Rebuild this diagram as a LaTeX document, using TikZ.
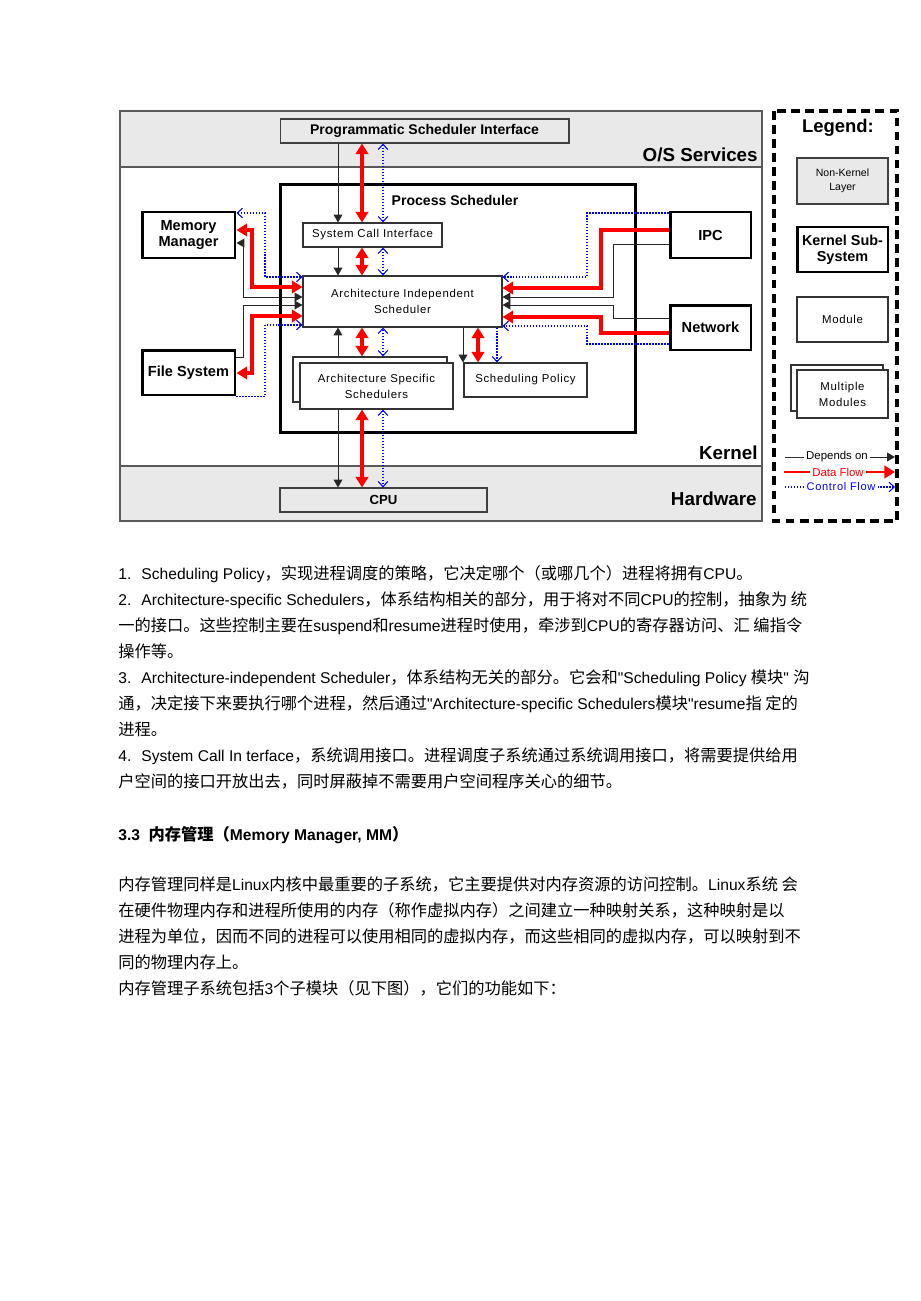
\documentclass[tikz,border=0pt]{standalone}
\usepackage{fontspec}
\usepackage{tikz}
\usetikzlibrary{calc,arrows.meta}
\setmainfont{Liberation Sans}
\newfontfamily\modfont[LetterSpace=6]{Liberation Sans}
\newfontfamily\bodyfont[Scale=0.96]{Liberation Sans}
\newfontfamily\cjk{Noto Sans CJK SC}
\newcommand\zh[1]{{\cjk #1}}

\tikzset{
	lay/.style={draw=black!75, line width=0.6pt, fill=gray!17, inner sep=0, font=\bfseries\fontsize{8}{9}\selectfont},
	mod/.style={draw=black!80, line width=0.6pt, fill=white, inner sep=0, align=center, font=\modfont\fontsize{6.5}{9.2}\selectfont},
	sub/.style={draw, line width=1.7pt, fill=white, inner sep=0, align=center, font=\bfseries\fontsize{8.3}{8.6}\selectfont},
	laylbl/.style={anchor=east, inner sep=0, font=\bfseries\fontsize{10.7}{12}\selectfont},
	legtxt/.style={inner sep=1pt, font=\fontsize{6.5}{8}\selectfont},
	txt/.style={anchor=base west, inner sep=0, font=\bodyfont\fontsize{9.25}{12}\selectfont},
	dep/.style={draw=black!85, line width=0.55pt, arrows={-Triangle[length=4.5pt,width=5pt]}},
	depb/.style={dep, arrows={Triangle[length=4.5pt,width=5pt]-Triangle[length=4.5pt,width=5pt]}},
	dat/.style={draw=red, line width=2.2pt, arrows={-Triangle[length=6pt,width=7pt]}},
	datb/.style={dat, arrows={Triangle[length=6pt,width=7pt]-Triangle[length=6pt,width=7pt]}},
	ctl/.style={draw=blue, dash pattern=on 0.8pt off 0.9pt, line width=0.6pt, arrows={-Straight Barb[length=3pt,width=5.5pt]}},
	ctlb/.style={ctl, arrows={Straight Barb[length=3pt,width=5.5pt]-Straight Barb[length=3pt,width=5.5pt]}}
}

\begin{document}
\begin{tikzpicture}[x=0.02cm,y=-0.02cm]
	\fill[white] (0,0) rectangle (920,1301);
	\useasboundingbox (0,0) rectangle (920,1301);
	% layers
	\fill[gray!17] (121,111) rectangle (761,167); % o/s services
	\fill[gray!17] (121,466) rectangle (761,521); % hardware
	\draw[black!65, line width=0.9pt] (120,111) rectangle (762,521) (120,167) -- (762,167) (120,466) -- (762,466);
	\node[laylbl] (oslbl) at (758,155) {O/S Services};
	\node[laylbl] (krlbl) at (758,453) {Kernel};
	\node[laylbl] (hwlbl) at (757,499) {Hardware};

	% boxes
	\node[lay, minimum width=5.78cm, minimum height=0.48cm] (psi) at (424.5,131) {Programmatic Scheduler Interface};
	\node[draw, line width=1.7pt, minimum width=7.12cm, minimum height=4.98cm] (proc) at (458,308.5) {};
	\node[inner sep=0, font=\bfseries\fontsize{8}{9}\selectfont] (proclbl) at (455,200) {Process Scheduler};
	\node[mod, minimum width=2.78cm, minimum height=0.48cm] (sci) at (372.5,235) {System Call Interface};
	\node[mod, minimum width=3.98cm, minimum height=1.02cm] (ais) at (402.5,301.5) {Architecture Independent\\Scheduler};
	\node[mod, minimum width=3.08cm, minimum height=0.90cm] (assb) at (370,379.5) {};
	\node[mod, minimum width=3.06cm, minimum height=0.92cm] (ass) at (376.5,386) {Architecture Specific\\Schedulers};
	\node[mod, minimum width=2.46cm, minimum height=0.68cm] (sp) at (525.5,380) {Scheduling Policy};
	\node[sub, minimum width=1.86cm, minimum height=0.92cm] (mm) at (188.5,235) {Memory\\Manager};
	\node[sub, minimum width=1.86cm, minimum height=0.90cm] (fs) at (188.5,372.5) {File System};
	\node[sub, minimum width=1.62cm, minimum height=0.92cm] (ipc) at (710.5,235) {IPC};
	\node[sub, minimum width=1.62cm, minimum height=0.90cm] (net) at (710.5,327.5) {Network};
	\node[lay, minimum width=4.14cm, minimum height=0.48cm, font=\bfseries\fontsize{7.5}{9}\selectfont] (cpu) at (383.5,500) {CPU};

	% vertical links
	\coordinate (c1) at (338,0);
	\coordinate (c2) at (362,0);
	\coordinate (c3) at (383,0);
	\draw[dep] (psi.south -| c1) -- (sci.north -| c1);
	\draw[datb] (psi.south -| c2) -- (sci.north -| c2);
	\draw[ctlb] (psi.south -| c3) -- (sci.north -| c3);
	\draw[dep] (sci.south -| c1) -- (ais.north -| c1);
	\draw[datb] (sci.south -| c2) -- (ais.north -| c2);
	\draw[ctlb] (sci.south -| c3) -- (ais.north -| c3);
	\draw[dep] (assb.north -| c1) -- (ais.south -| c1);
	\draw[datb] (assb.north -| c2) -- (ais.south -| c2);
	\draw[ctlb] (assb.north -| c3) -- (ais.south -| c3);
	\draw[dep] (ass.south -| c1) -- (cpu.north -| c1);
	\draw[datb] (ass.south -| c2) -- (cpu.north -| c2);
	\draw[ctlb] (ass.south -| c3) -- (cpu.north -| c3);
	\draw[dep] (ais.south -| 463,0) -- (sp.north -| 463,0); % to policy
	\draw[datb] (ais.south -| 478,0) -- (sp.north -| 478,0);
	\draw[ctl] (ais.south -| 497,0) -- (sp.north -| 497,0);

	% left side
	\draw[ctlb] (mm.east |- 0,213) -| (265,277) -- (ais.west |- 0,277);
	\draw[datb] (mm.east |- 0,230) -| (252,287) -- (ais.west |- 0,287);
	\draw[depb] (mm.east |- 0,243) -| (243,297) -- (ais.west |- 0,297);
	\draw[dep] (fs.east |- 0,357) -| (243,305) -- (ais.west |- 0,305);
	\draw[datb] (fs.east |- 0,373) -| (252,316) -- (ais.west |- 0,316);
	\draw[ctl] (fs.south east) -| (265,325) -- (ais.west |- 0,325);

	% right side
	\draw[ctl] (ipc.west |- 0,213) -| (587,277) -- (ais.east |- 0,277);
	\draw[dat] (ipc.west |- 0,230) -| (601,288) -- (ais.east |- 0,288);
	\draw[dep] (ipc.west |- 0,244) -| (613,297) -- (ais.east |- 0,297);
	\draw[dep] (net.west |- 0,318) -| (613,305) -- (ais.east |- 0,305);
	\draw[dat] (net.west |- 0,333) -| (601,317) -- (ais.east |- 0,317);
	\draw[ctl] (net.west |- 0,344) -| (587,326) -- (ais.east |- 0,326);

	% legend
	\draw[line width=2pt, dash pattern=on 5pt off 3pt] (774,111) rectangle (897,521);
	\node[inner sep=0, font=\bfseries\fontsize{10.5}{12}\selectfont] (leg) at (838,128) {Legend:};
	\node[lay, align=center, font=\fontsize{6}{8}\selectfont, minimum width=1.82cm, minimum height=0.92cm] (lnk) at (842.5,181) {Non-Kernel\\Layer};
	\node[sub, font=\bfseries\fontsize{8.2}{9}\selectfont, minimum width=1.82cm, minimum height=0.90cm] (lks) at (842.5,249.5) {Kernel Sub-\\System};
	\node[mod, minimum width=1.82cm, minimum height=0.90cm] (lmod) at (842.5,319.5) {Module};
	\node[mod, minimum width=1.84cm, minimum height=0.92cm] (lmmb) at (837,388) {};
	\node[mod, minimum width=1.82cm, minimum height=0.96cm] (lmm) at (842.5,394) {Multiple\\Modules};
	\coordinate (ld0) at (785,457); \coordinate (ld1) at (895,457);
	\coordinate (lf0) at (784,472); \coordinate (lf1) at (895,472);
	\coordinate (lc0) at (785,487); \coordinate (lc1) at (895,487);
	\node[legtxt] (ldep) at (837,457) {Depends on};
	\node[legtxt, text=red] (ldat) at (838,472) {Data Flow};
	\node[legtxt, text=blue, font=\modfont\fontsize{6.3}{8}\selectfont] (lctl) at (841,487) {Control Flow};
	\draw[black!80, line width=0.5pt] (ld0) -- (ldep.west);
	\draw[dep] (ldep.east) -- (ld1);
	\draw[red, line width=1.5pt] (lf0) -- (ldat.west);
	\draw[dat, line width=1.5pt] (ldat.east) -- (lf1);
	\draw[blue, dash pattern=on 0.8pt off 0.9pt, line width=0.6pt] (lc0) -- (lctl.west);
	\draw[ctl] (lctl.east) -- (lc1);

	% text below
	\node[txt] (t1) at (118,579) {1.~ Scheduling Policy\zh{，实现进程调度的策略，它决定哪个（或哪几个）进程将拥有}CPU\zh{。}};
	\node[txt] (t2) at (118,605) {2.~ Architecture-specific Schedulers\zh{，体系结构相关的部分，用于将对不同}CPU\zh{的控制，抽象为 统}};
	\node[txt] (t3) at (118,631) {\zh{一的接口。这些控制主要在}suspend\zh{和}resume\zh{进程时使用，牵涉到}CPU\zh{的寄存器访问、汇 编指令}};
	\node[txt] (t4) at (118,657) {\zh{操作等。}};
	\node[txt] (t5) at (118,683) {3.~ Architecture-independent Scheduler\zh{，体系结构无关的部分。它会和}"Scheduling Policy \zh{模块}" \zh{沟}};
	\node[txt] (t6) at (118,709) {\zh{通，决定接下来要执行哪个进程，然后通过}"Architecture-specific Schedulers\zh{模块}"resume\zh{指 定的}};
	\node[txt] (t7) at (118,735) {\zh{进程。}};
	\node[txt] (t8) at (118,761) {4.~ System Call In terface\zh{，系统调用接口。进程调度子系统通过系统调用接口，将需要提供给用}};
	\node[txt] (t9) at (118,787) {\zh{户空间的接口开放出去，同时屏蔽掉不需要用户空间程序关心的细节。}};
	\node[txt, font=\bodyfont\bfseries\fontsize{9.25}{12}\selectfont] (h33) at (118,840) {3.3~ \zh{内存管理（}Memory Manager, MM\zh{）}};
	\node[txt] (p1) at (118,890) {\zh{内存管理同样是}Linux\zh{内核中最重要的子系统，它主要提供对内存资源的访问控制。}Linux\zh{系统 会}};
	\node[txt] (p2) at (118,916) {\zh{在硬件物理内存和进程所使用的内存（称作虚拟内存）之间建立一种映射关系，这种映射是以}};
	\node[txt] (p3) at (118,942) {\zh{进程为单位，因而不同的进程可以使用相同的虚拟内存，而这些相同的虚拟内存，可以映射到不}};
	\node[txt] (p4) at (118,968) {\zh{同的物理内存上。}};
	\node[txt] (p5) at (118,994) {\zh{内存管理子系统包括}3\zh{个子模块（见下图），它们的功能如下：}};
\end{tikzpicture}
\end{document}
